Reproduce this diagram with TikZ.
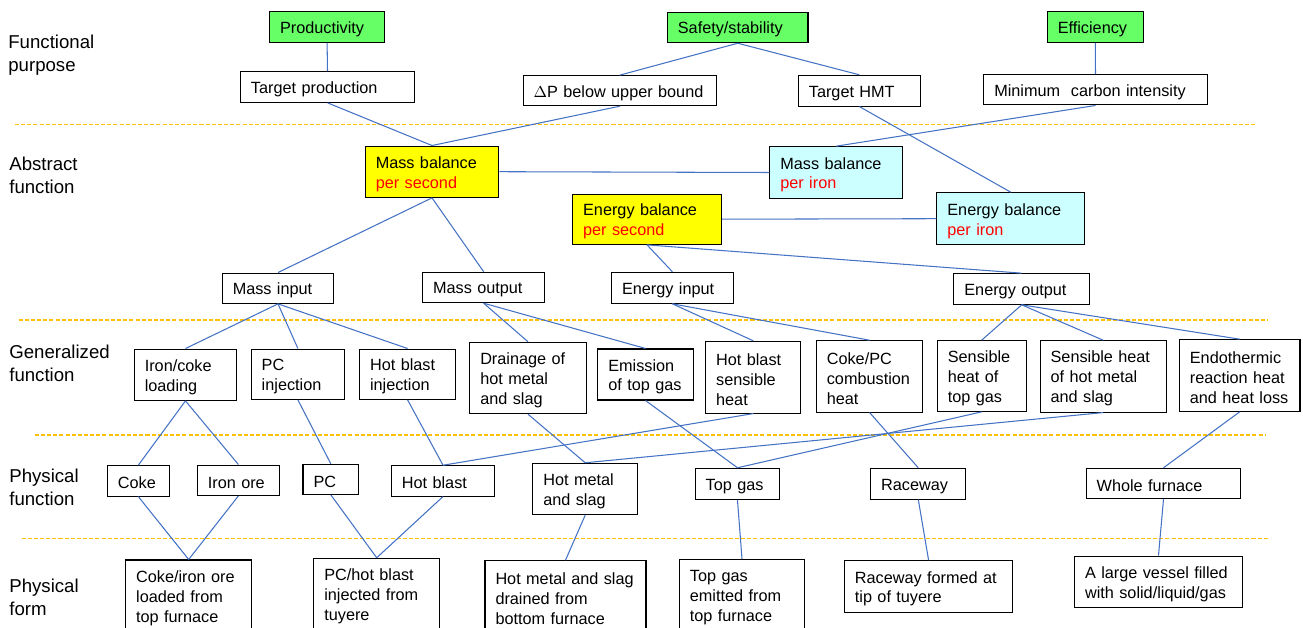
\documentclass[tikz,border=0pt]{standalone}
\usepackage{fontspec}
\setmainfont{Liberation Sans}
\usepackage{tikz}

\definecolor{goal}{HTML}{66FF66}
\definecolor{persec}{HTML}{FFFF00}
\definecolor{periron}{HTML}{CCFFFF}
\definecolor{linkblue}{HTML}{4472C4}
\definecolor{levelline}{HTML}{FFC000}

\begin{document}
\begin{tikzpicture}[x=0.02cm,y=-0.02cm,
  bx/.code 2 args={\pgfmathsetmacro\bxw{(#1-16)*0.02}\pgfmathsetmacro\bxh{#2*0.02}%
    \pgfkeysalso{/tikz/text width=\bxw cm,/tikz/minimum height=\bxh cm}},
  box/.style={draw=black, line width=0.6pt, fill=white, align=left, inner xsep=0.16cm, inner ysep=0pt,
    font=\fontsize{9.25}{11.3}\selectfont,
    execute at begin node={\leftskip=0.05cm\rule{0pt}{1em}}},
  lab/.style={anchor=west, align=left, inner sep=0pt, font=\fontsize{10.6}{13}\selectfont},
  link/.style={draw=linkblue, line width=0.6pt},
  sep/.style={draw=levelline, line width=0.85pt, dash pattern=on 2.3pt off 1.2pt}]

\clip (0,0) rectangle (1303,628);

% level names
\node[lab] (lfp) at (8,55) {Functional\\purpose};
\node[lab] (laf) at (9,175) {Abstract\\function};
\node[lab] (lgf) at (9,363.5) {Generalized\\function};
\node[lab] (lpf) at (9,487) {Physical\\function};
\node[lab] (lpm) at (9,597) {Physical\\form};

% level separators
\draw[sep] (15,124.7) -- (1257,124.7);
\draw[sep] (18.7,320) -- (1268,320);
\draw[sep] (34.8,435) -- (1266,435);
\draw[sep] (21.6,538.7) -- (1268,538.7);

% functional purpose
\node[box, bx={115}{31}, fill=goal] (prod) at (327.1,27.2) {Productivity};
\node[box, bx={140.6}{30.4}, fill=goal] (safe) at (737.7,27.5) {Safety/stability};
\node[box, bx={96}{31.4}, fill=goal] (effi) at (1095.3,27) {Efficiency};
\node[box, bx={174}{30.6}] (tprod) at (327.5,87) {Target production};
\node[box, bx={193.3}{30}] (dp) at (619.7,90.7) {$\Delta$P below upper bound};
\node[box, bx={122}{30.7}] (hmt) at (859.4,90.7) {Target HMT};
\node[box, bx={223.5}{30.3}] (mci) at (1095.5,89.8) {Minimum\ \ carbon intensity};

% abstract function
\node[box, bx={133.5}{51.3}, fill=persec] (mbs) at (432,171.7) {Mass balance\\\textcolor{red}{per second}};
\node[box, bx={132.7}{51.6}, fill=periron] (mbi) at (836.2,172.5) {Mass balance\\\textcolor{red}{per iron}};
\node[box, bx={148.7}{50.3}, fill=persec] (ebs) at (647,219.2) {Energy balance\\\textcolor{red}{per second}};
\node[box, bx={147.6}{52}, fill=periron] (ebi) at (1010.7,218.7) {Energy balance\\\textcolor{red}{per iron}};
\node[box, bx={111.5}{30.3}] (min) at (278,288.2) {Mass input};
\node[box, bx={122.3}{30.4}] (mout) at (483.7,287.5) {Mass output};
\node[box, bx={121.8}{31}] (ein) at (672.4,287.8) {Energy input};
\node[box, bx={135.6}{30.6}] (eout) at (1021.7,289) {Energy output};

% generalized function
\node[box, bx={102.4}{51.3}] (icl) at (185.5,374.7) {Iron/coke\\loading};
\node[box, bx={93.3}{50.3}] (pci) at (297.9,374.2) {PC\\injection};
\node[box, bx={96.1}{50.3}] (hbi) at (407.6,374.2) {Hot blast\\injection};
\node[box, bx={116.5}{71.4}] (drain) at (528,378) {Drainage of\\hot metal\\and slag};
\node[box, bx={95.3}{51}] (emis) at (645.5,374.5) {Emission\\of top gas};
\node[box, bx={95.3}{71.7}] (hbsh) at (753.3,377.2) {Hot blast\\sensible\\heat};
\node[box, bx={106.5}{71.3}] (cpch) at (869.6,376.4) {Coke/PC\\combustion\\heat};
\node[box, bx={88.7}{70.6}] (shtg) at (981.7,376) {Sensible\\heat of\\top gas};
\node[box, bx={126.1}{71.3}] (shhm) at (1103.2,376.4) {Sensible heat\\of hot metal\\and slag};
\node[box, bx={120.6}{71.6}] (endo) at (1239.7,375.5) {Endothermic\\reaction heat\\and heat loss};

% physical function
\node[box, bx={61.8}{30.3}] (coke) at (138.3,480.9) {Coke};
\node[box, bx={82.1}{30.3}] (ore) at (238.4,480.2) {Iron ore};
\node[box, bx={55.6}{30}] (pc) at (330.8,479.3) {PC};
\node[box, bx={103.2}{30.3}] (hb) at (443,480.9) {Hot blast};
\node[box, bx={104.8}{51.4}] (hms) at (585.2,489) {Hot metal\\and slag};
\node[box, bx={84.6}{31.4}] (tg) at (737.5,484) {Top gas};
\node[box, bx={95.3}{30.7}] (race) at (918.3,483.7) {Raceway};
\node[box, bx={154.6}{30.4}] (whole) at (1163.5,483.5) {Whole furnace};

% physical form
\node[box, bx={126.1}{72}] (fci) at (188.7,596) {Coke/iron ore\\loaded from\\top furnace};
\node[box, bx={125.7}{72}] (fpc) at (376.7,594.3) {PC/hot blast\\injected from\\tuyere};
\node[box, bx={161}{72}] (fhm) at (565.5,596.7) {Hot metal and slag\\drained from\\bottom furnace};
\node[box, bx={125.2}{72}] (ftg) at (742,595.3) {Top gas\\emitted from\\top furnace};
\node[box, bx={168.4}{51.6}] (frw) at (928.6,586.5) {Raceway formed at\\tip of tuyere};
\node[box, bx={167.9}{51.3}] (fves) at (1158.5,581.7) {A large vessel filled\\with solid/liquid/gas};

% links
\draw[link] (prod.south) -- (tprod.north);
\draw[link] (safe.south) -- (dp.north);
\draw[link] (safe.south) -- (hmt.north);
\draw[link] (effi.south) -- (mci.north);
\draw[link] (tprod.south) -- (mbs.north);
\draw[link] (dp.south) -- (mbs.north);
\draw[link] (mci.south) -- (mbi.north);
\draw[link] (hmt.south) -- (ebi.north);
\draw[link] (mbs.east) -- (mbi.west);
\draw[link] (ebs.east) -- (ebi.west);
\draw[link] (mbs.south) -- (min.north);
\draw[link] (mbs.south) -- (mout.north);
\draw[link] (ebs.south) -- (ein.north);
\draw[link] (ebs.south) -- (eout.north);

\draw[link] (min.south) -- (icl.north);
\draw[link] (min.south) -- (pci.north);
\draw[link] (min.south) -- (hbi.north);
\draw[link] (mout.south) -- (drain.north);
\draw[link] (mout.south) -- (emis.north);
\draw[link] (ein.south) -- (hbsh.north);
\draw[link] (ein.south) -- (cpch.north);
\draw[link] (eout.south) -- (shtg.north);
\draw[link] (eout.south) -- (shhm.north);
\draw[link] (eout.south) -- (endo.north);

\draw[link] (icl.south) -- (coke.north);
\draw[link] (icl.south) -- (ore.north);
\draw[link] (pci.south) -- (pc.north);
\draw[link] (hbi.south) -- (hb.north);
\draw[link] (drain.south) -- (hms.north);
\draw[link] (emis.south) -- (tg.north);
\draw[link] (hbsh.south) -- (hb.north);
\draw[link] (cpch.south) -- (race.north);
\draw[link] (shtg.south) -- (tg.north);
\draw[link] (shhm.south) -- (hms.north);
\draw[link] (endo.south) -- (whole.north);

\draw[link] (coke.south) -- (fci.north);
\draw[link] (ore.south) -- (fci.north);
\draw[link] (pc.south) -- (fpc.north);
\draw[link] (hb.south) -- (fpc.north);
\draw[link] (hms.south) -- (fhm.north);
\draw[link] (tg.south) -- (ftg.north);
\draw[link] (race.south) -- (frw.north);
\draw[link] (whole.south) -- (fves.north);

\end{tikzpicture}
\end{document}
